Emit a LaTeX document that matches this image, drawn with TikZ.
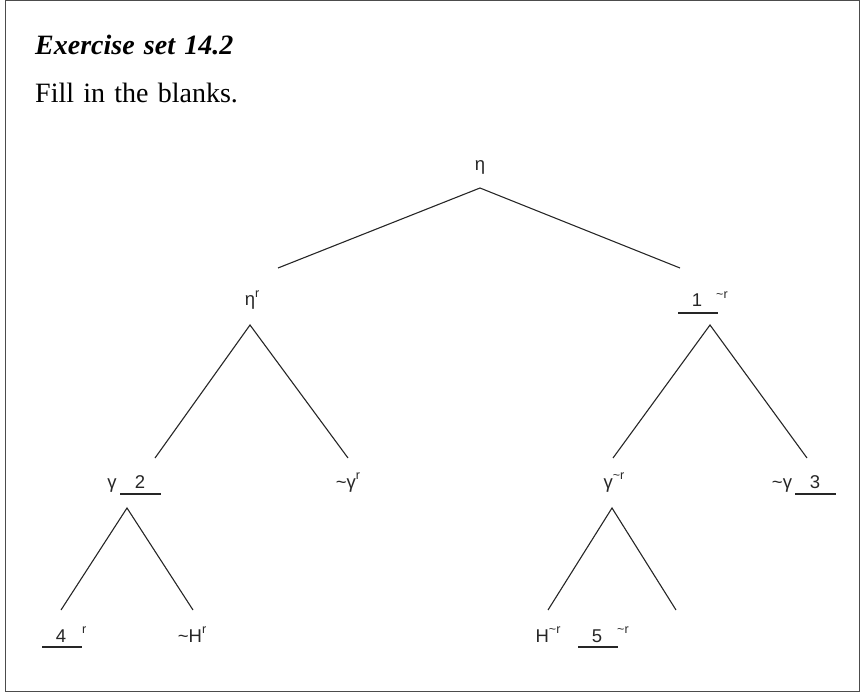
\documentclass[tikz,border=0pt]{standalone}
\usepackage{fontspec}
\setmainfont{Liberation Serif}
\newfontfamily\lsans{Liberation Sans}
\newcommand\mysup[1]{\raisebox{0.45em}{\fontsize{12.5}{13}\selectfont #1}}
\newcommand\tl{\textasciitilde}
\newcommand\widesp{\spaceskip=0.33em\relax}
\begin{document}
\begin{tikzpicture}[x=1pt,y=-1pt,
  lbl/.style={anchor=base,inner sep=0pt,text=black!85,font=\lsans\fontsize{18.5}{20}\selectfont},
  edge/.style={line width=1.1pt,black!85},
  blank/.style={line width=1.1pt,black!85},
  head/.style={anchor=base west,inner sep=0pt,font=\fontsize{28}{30}\selectfont\widesp}]
\useasboundingbox (0,0) rectangle (864,692);
\draw[line width=1pt,black!70] (5,1) rectangle (859,691);
\node[head,font=\fontsize{28}{30}\selectfont\bfseries\itshape\widesp] (title) at (35,55) {Exercise set 14.2};
\node[head] (instr) at (35,103) {Fill in the blanks.};
% level 0
\node[lbl] (eta) at (480,171) {η};
\coordinate (etaB) at (480,188);
\coordinate (etarT) at (278,268);
\coordinate (oneT) at (680,268);
\draw[edge] (etarT) -- (etaB) -- (oneT);
% level 1
\node[lbl] (etar) at (252,306) {η\mysup{r}};
\node[lbl] (one) at (697,307) {1};
\node[lbl,anchor=base west] (onesup) at (716,307) {\mysup{\tl r}};
\draw[blank] (678,313) -- (718,313);
\coordinate (etarB) at (250,325);
\coordinate (gamT) at (155,458);
\coordinate (ngamrT) at (348,458);
\draw[edge] (gamT) -- (etarB) -- (ngamrT);
\coordinate (oneB) at (710,325);
\coordinate (gammrT) at (613,458);
\coordinate (ngamT) at (807,458);
\draw[edge] (gammrT) -- (oneB) -- (ngamT);
% level 2
\node[lbl] (gam) at (112,488) {γ};
\node[lbl] (two) at (140,488) {2};
\draw[blank] (120,494) -- (161,494);
\node[lbl] (ngamr) at (348,488) {\tl γ\mysup{r}};
\node[lbl] (gammr) at (614,488) {γ\mysup{\tl r}};
\node[lbl] (ngam) at (782,488) {\tl γ};
\node[lbl] (three) at (815,488) {3};
\draw[blank] (795,494) -- (836,494);
\coordinate (gamB) at (127,508);
\coordinate (fourT) at (61,610);
\coordinate (nHrT) at (193,610);
\draw[edge] (fourT) -- (gamB) -- (nHrT);
\coordinate (gammrB) at (612,508);
\coordinate (HmrT) at (548,610);
\coordinate (fiveT) at (676,610);
\draw[edge] (HmrT) -- (gammrB) -- (fiveT);
% level 3
\node[lbl] (four) at (61,642) {4};
\node[lbl,anchor=base west] (foursup) at (82,642) {\mysup{r}};
\draw[blank] (42,647) -- (82,647);
\node[lbl] (nHr) at (192,642) {\tl H\mysup{r}};
\node[lbl] (Hmr) at (548,642) {H\mysup{\tl r}};
\node[lbl] (five) at (597,642) {5};
\node[lbl,anchor=base west] (fivesup) at (617,642) {\mysup{\tl r}};
\draw[blank] (578,647) -- (618,647);
\end{tikzpicture}
\end{document}
